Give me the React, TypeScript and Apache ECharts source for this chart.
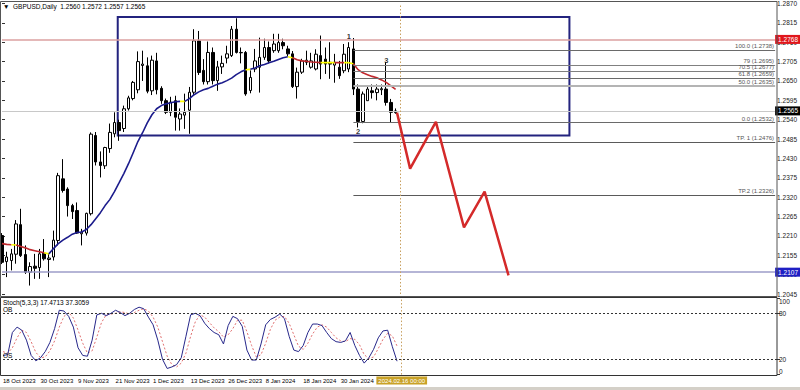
import React, { useEffect, useRef } from 'react';
import * as echarts from 'echarts';

const FONT = '"Liberation Sans", Arial, sans-serif';

// ---- time axis ----
const TICK_LABELS = ['18 Oct 2023', '30 Oct 2023', '9 Nov 2023', '21 Nov 2023', '1 Dec 2023', '13 Dec 2023', '26 Dec 2023', '8 Jan 2024', '18 Jan 2024', '30 Jan 2024'];
const LABEL_STEP = 8;
const N_SLOTS = 166; // bars + empty future space to the right edge
const MARKER_INDEX = 85;
const MARKER_LABEL = '2024.02.16 00:00';

// ---- daily candles, 18 Oct 2023 .. 15 Feb 2024 ----
const OPEN = [1.2211,1.2137,1.2140,1.2158,1.2242,1.2157,1.2107,1.2124,1.2120,1.2161,1.2143,1.2150,1.2197,1.2372,1.2343,1.2296,1.2282,1.2216,1.2218,1.2273,1.2495,1.2420,1.2409,1.2458,1.2500,1.2532,1.2515,1.2571,1.2600,1.2625,1.2694,1.2693,1.2622,1.2707,1.2629,1.2594,1.2561,1.2594,1.2542,1.2553,1.2567,1.2618,1.2764,1.2680,1.2648,1.2731,1.2651,1.2690,1.2715,1.2722,1.2797,1.2731,1.2731,1.2623,1.2684,1.2689,1.2717,1.2745,1.2736,1.2736,1.2759,1.2741,1.2727,1.2634,1.2675,1.2703,1.2689,1.2684,1.2722,1.2712,1.2703,1.2695,1.2689,1.2679,1.2684,1.2741,1.2627,1.2535,1.2594,1.2622,1.2617,1.2625,1.2627,1.2589,1.2560];
const HIGH = [1.2218,1.2165,1.2173,1.2255,1.2287,1.2183,1.2135,1.2159,1.2173,1.2201,1.2161,1.2225,1.2389,1.2428,1.2348,1.2301,1.2305,1.2230,1.2276,1.2504,1.2505,1.2450,1.2463,1.2529,1.2561,1.2540,1.2580,1.2608,1.2650,1.2734,1.2736,1.2717,1.2722,1.2730,1.2635,1.2600,1.2605,1.2608,1.2572,1.2614,1.2633,1.2797,1.2792,1.2712,1.2762,1.2745,1.2707,1.2722,1.2750,1.2806,1.2828,1.2745,1.2735,1.2680,1.2741,1.2773,1.2770,1.2762,1.2784,1.2784,1.2770,1.2750,1.2735,1.2688,1.2713,1.2736,1.2730,1.2740,1.2779,1.2745,1.2760,1.2727,1.2707,1.2755,1.2760,1.2772,1.2640,1.2620,1.2635,1.2640,1.2640,1.2640,1.2703,1.2599,1.2572];
const LOW = [1.2130,1.2093,1.2112,1.2131,1.2150,1.2102,1.2069,1.2088,1.2088,1.2140,1.2093,1.2140,1.2183,1.2333,1.2265,1.2258,1.2216,1.2183,1.2211,1.2268,1.2410,1.2376,1.2400,1.2446,1.2490,1.2480,1.2505,1.2566,1.2595,1.2615,1.2650,1.2615,1.2610,1.2612,1.2585,1.2556,1.2550,1.2509,1.2509,1.2514,1.2500,1.2610,1.2667,1.2640,1.2640,1.2640,1.2622,1.2670,1.2700,1.2718,1.2728,1.2700,1.2608,1.2615,1.2675,1.2617,1.2710,1.2700,1.2730,1.2730,1.2740,1.2720,1.2630,1.2600,1.2670,1.2695,1.2685,1.2680,1.2655,1.2670,1.2656,1.2645,1.2656,1.2672,1.2675,1.2610,1.2518,1.2530,1.2594,1.2600,1.2595,1.2610,1.2580,1.2532,1.2557];
const CLOSE = [1.2135,1.2150,1.2159,1.2244,1.2154,1.2107,1.2123,1.2118,1.2159,1.2145,1.2147,1.2198,1.2381,1.2339,1.2296,1.2279,1.2218,1.2221,1.2274,1.2499,1.2420,1.2410,1.2461,1.2504,1.2532,1.2509,1.2571,1.2602,1.2646,1.2705,1.2698,1.2621,1.2709,1.2625,1.2594,1.2561,1.2590,1.2547,1.2556,1.2561,1.2618,1.2764,1.2674,1.2648,1.2731,1.2651,1.2690,1.2700,1.2727,1.2797,1.2731,1.2730,1.2613,1.2660,1.2707,1.2717,1.2745,1.2707,1.2755,1.2759,1.2750,1.2727,1.2634,1.2675,1.2707,1.2709,1.2707,1.2726,1.2698,1.2698,1.2698,1.2703,1.2665,1.2726,1.2745,1.2627,1.2535,1.2613,1.2627,1.2617,1.2627,1.2628,1.2589,1.2561,1.2565];

// ---- moving average (colour per segment: r falling, y flat, b rising) ----
const MA = [1.2188,1.2186,1.2185,1.2184,1.2180,1.2176,1.2171,1.2168,1.2165,1.2162,1.2159,1.2174,1.2188,1.2198,1.2206,1.2215,1.2220,1.2221,1.2228,1.2242,1.2259,1.2276,1.2296,1.2313,1.2336,1.2361,1.2387,1.2415,1.2446,1.2478,1.2503,1.2531,1.2554,1.2571,1.2580,1.2585,1.2588,1.2591,1.2592,1.2592,1.2600,1.2611,1.2619,1.2625,1.2629,1.2635,1.2641,1.2645,1.2651,1.2658,1.2668,1.2676,1.2682,1.2683,1.2687,1.2693,1.2697,1.2702,1.2706,1.2711,1.2716,1.2719,1.2716,1.2710,1.2707,1.2706,1.2704,1.2703,1.2702,1.2702,1.2702,1.2702,1.2702,1.2702,1.2702,1.2699,1.2682,1.2673,1.2668,1.2663,1.2659,1.2653,1.2646,1.2636,1.2626];
const MA_SEG = 'rryrrrrrrybbbbbbbbbbbbbbbbbbbbbbbbbbbbybbbbbbbbbbbbbybbbbbbbbyrrrrrryyyrryyrrrrrrrrr';

// ---- stochastic (5,3,3) ----
const STOCH_MAIN = [25,26,55,62,58,45,25,18,22,30,42,60,84,83,76,62,35,25,24,45,78,80,77,80,84,81,77,80,85,88,86,75,65,45,20,8,10,13,22,50,78,80,77,67,60,55,52,40,64,76,73,63,32,19,19,40,65,72,75,79,73,50,32,30,38,55,66,66,64,55,47,43,42,44,55,38,25,15,22,33,48,57,58,36.4,17.47];
const STOCH_SIGNAL = [30,28,35,48,58,55,43,29,22,23,31,44,62,76,81,74,58,41,28,31,49,68,78,79,80,82,81,79,81,84,86,83,75,62,43,24,13,10,15,28,50,69,78,75,68,61,56,49,52,60,71,71,56,38,23,26,41,59,71,75,76,67,52,37,33,41,53,62,65,62,55,48,44,43,47,46,39,26,21,23,34,46,54,50.5,37.31];
const STOCH_LEVELS = [{ value: 80, name: 'OB' }, { value: 20, name: 'OS' }];
const STOCH_TICKS = [0, 20, 80, 100];

// ---- drawn objects ----
const H_LINES = [
  { price: 1.2768, color: '#dba0a0', box: '#e0161c', width: 1.5 },
  { price: 1.2565, color: '#c8c8c8', box: '#000000', width: 1 },
  { price: 1.2107, color: '#9c9cc8', box: '#1f1fc4', width: 1.5 },
];
const FIB_START = 75;
const FIB = [
  { text: '100.0 (1.2738)', price: 1.2738 },
  { text: '79 (1.2695)', price: 1.2695 },
  { text: '70.5 (1.2677)', price: 1.2677 },
  { text: '61.8 (1.2659)', price: 1.2659 },
  { text: '50.0 (1.2635)', price: 1.2635 },
  { text: '0.0 (1.2532)', price: 1.2532 },
  { text: 'TP. 1 (1.2476)', price: 1.2476 },
  { text: 'TP.2 (1.2326)', price: 1.2326 },
];
const FIB_STYLE = [
  { color: '#6a6a6a', width: 1 }, { color: '#808080', width: 1 }, { color: '#808080', width: 1 }, { color: '#6a6a6a', width: 1 },
  { color: '#b4b4b4', width: 2 }, { color: '#6a6a6a', width: 1 }, { color: '#5a5a5a', width: 1 }, { color: '#5a5a5a', width: 1 },
];
const BOX = { from: 24.7, to: 121.1, top: 1.2832, bottom: 1.2495 };
const PROJECTION = [[84.3, 1.2560], [87.1, 1.2401], [92.6, 1.2534], [98.6, 1.2234], [103.0, 1.2336], [108.1, 1.2098]];
const WAVE_LABELS = [
  { name: '1', i: 74, price: 1.2777 },
  { name: '2', i: 76, price: 1.2507 },
  { name: '3', i: 82, price: 1.2708 },
];

const MA_COLORS: Record<string, string> = { r: '#c0282d', y: '#ffff00', b: '#1c1c8c' };

function buildOption(): any {
  const cats = Array.from({ length: N_SLOTS }, (_, i) =>
    i % LABEL_STEP === 0 && i / LABEL_STEP < TICK_LABELS.length ? TICK_LABELS[i / LABEL_STEP] : `#${i}`);

  const candles = OPEN.map((o, i) => [o, CLOSE[i], LOW[i], HIGH[i]]);

  const runs: { c: string; from: number; to: number }[] = [];
  for (let s = 0; s < MA_SEG.length; s++) {
    const c = MA_SEG[s];
    const last = runs[runs.length - 1];
    if (last && last.c === c && last.to === s) last.to = s + 1;
    else runs.push({ c, from: s, to: s + 1 });
  }
  const maSeries = runs.map((r) => ({
    type: 'line', xAxisIndex: 2, yAxisIndex: 0, symbol: 'none', silent: true, z: 4,
    data: MA.slice(r.from, r.to + 1).map((v, k) => [r.from + k, v]),
    lineStyle: { color: MA_COLORS[r.c], width: 1.6 },
  }));

  const small = { fontFamily: FONT, fontSize: 6.5 };
  const lastSlot = N_SLOTS - 1;

  const markLines: any[] = [
    ...H_LINES.map((h) => [
      {
        coord: [0, h.price],
        lineStyle: { color: h.color, width: h.width, type: 'solid' },
        label: { show: true, position: 'end', distance: 0, formatter: h.price.toFixed(4), backgroundColor: h.box, color: '#fff', padding: [1, 2, 1, 3], ...small },
      },
      { coord: [lastSlot, h.price] },
    ]),
    ...FIB.map((f, k) => [
      {
        coord: [FIB_START, f.price],
        lineStyle: { color: FIB_STYLE[k].color, width: FIB_STYLE[k].width, type: 'solid' },
        label: { show: true, position: 'insideEndTop', distance: 1, formatter: f.text, color: '#555', ...small, fontSize: 6 },
      },
      { coord: [lastSlot, f.price] },
    ]),
    { xAxis: MARKER_INDEX, lineStyle: { color: '#c8a060', width: 1, type: [1.5, 2] }, label: { show: false } },
  ];

  const stochMax = STOCH_TICKS[STOCH_TICKS.length - 1];
  const stochMin = STOCH_TICKS[0];

  return {
    animation: false,
    backgroundColor: '#ffffff',
    textStyle: { fontFamily: FONT },
    title: [
      { text: '▼  GBPUSD,Daily  1.2560 1.2572 1.2557 1.2565', left: 3, top: 3, padding: 0, textStyle: { fontSize: 6.5, fontWeight: 'normal', color: '#000', fontFamily: FONT } },
      { text: 'Stoch(5,3,3) 17.4713 37.3059', left: 3, top: 299, padding: 0, textStyle: { fontSize: 6.5, fontWeight: 'normal', color: '#000', fontFamily: FONT } },
    ],
    grid: [
      { left: 2, width: 775, top: 2.6, height: 291.4 },
      { left: 2, width: 775, top: 298, height: 76.6 },
    ],
    xAxis: [
      { type: 'category', gridIndex: 0, data: cats, boundaryGap: false, axisLine: { show: false }, axisTick: { show: false }, axisLabel: { show: false }, splitLine: { show: false } },
      {
        type: 'category', gridIndex: 1, data: cats, boundaryGap: false, axisLine: { show: false }, axisTick: { show: false }, splitLine: { show: false },
        axisLabel: { show: true, interval: (idx: number) => idx % LABEL_STEP === 0 && idx / LABEL_STEP < TICK_LABELS.length, align: 'left', margin: 3, color: '#000', fontFamily: FONT, fontSize: 6 },
      },
      { type: 'value', gridIndex: 0, min: 0, max: lastSlot, show: false },
    ],
    yAxis: [
      {
        type: 'value', gridIndex: 0, position: 'right', min: 1.2045, max: 1.2870, interval: 0.0055,
        axisLine: { show: false }, splitLine: { show: false },
        axisTick: { show: true, length: 3, lineStyle: { color: '#333' } },
        axisLabel: { margin: 2, color: '#222', ...small, formatter: (v: number) => v.toFixed(4) },
      },
      {
        type: 'value', gridIndex: 1, position: 'right', min: stochMin, max: stochMax,
        axisLine: { show: false }, splitLine: { show: false },
        axisTick: { show: true, length: 3, customValues: STOCH_TICKS, lineStyle: { color: '#333' } },
        axisLabel: {
          margin: 2, color: '#222', ...small, customValues: STOCH_TICKS,
          formatter: (v: number) => (v === stochMax ? `{top|${v}}` : v === stochMin ? `{bot|${v}}` : String(v)),
          rich: {
            top: { padding: [7, 0, 0, 0], color: '#222', ...small },
            bot: { padding: [0, 0, 7, 0], color: '#222', ...small },
          },
        },
      },
    ],
    series: [
      {
        type: 'candlestick', xAxisIndex: 0, yAxisIndex: 0, data: candles, barWidth: 3, clip: false, z: 3,
        itemStyle: { color: '#ffffff', color0: '#000000', borderColor: '#000000', borderColor0: '#000000', borderWidth: 1 },
      },
      ...maSeries,
      {
        type: 'line', xAxisIndex: 2, yAxisIndex: 0, symbol: 'none', data: PROJECTION, z: 5,
        lineStyle: { color: '#d42a2a', width: 2.5 },
        markLine: { symbol: ['none', 'none'], silent: true, animation: false, label: { show: false }, data: markLines },
        markArea: {
          silent: true,
          itemStyle: { color: 'rgba(0,0,0,0)', borderColor: '#23237e', borderWidth: 2 },
          data: [[{ coord: [BOX.from, BOX.top] }, { coord: [BOX.to, BOX.bottom] }]],
        },
      },
      {
        type: 'scatter', xAxisIndex: 2, yAxisIndex: 0, symbolSize: 1, itemStyle: { color: 'rgba(0,0,0,0)' }, z: 6,
        data: WAVE_LABELS.map((w) => ({ name: w.name, value: [w.i, w.price] })),
        label: { show: true, position: 'inside', formatter: (p: any) => p.name, color: '#000', fontWeight: 'bold', fontFamily: FONT, fontSize: 7.5 },
      },
      {
        type: 'line', xAxisIndex: 1, yAxisIndex: 1, symbol: 'none', data: STOCH_MAIN, z: 4,
        lineStyle: { color: '#27278a', width: 1 },
        markLine: {
          symbol: ['none', 'none'], silent: true, animation: false,
          data: [
            ...STOCH_LEVELS.map((l) => ({
              yAxis: l.value, lineStyle: { color: '#333', width: 1, type: [2, 2] },
              label: { show: true, position: 'insideStartTop', distance: 0, formatter: l.name, color: '#000', ...small },
            })),
            {
              xAxis: MARKER_INDEX, lineStyle: { color: '#c8a060', width: 1, type: [1.5, 2] },
              label: { show: true, position: 'start', distance: 2, formatter: MARKER_LABEL, backgroundColor: '#c9a227', color: '#fff', padding: [1, 2], fontFamily: FONT, fontSize: 6 },
            },
          ],
        },
      },
      {
        type: 'line', xAxisIndex: 1, yAxisIndex: 1, symbol: 'none', data: STOCH_SIGNAL, z: 3,
        lineStyle: { color: '#e07070', width: 1, type: [2, 2] },
      },
    ],
    graphic: [
      { type: 'rect', silent: true, z: 100, shape: { x: 0.5, y: 1.5, width: 776.5, height: 295 }, style: { fill: 'none', stroke: '#555', lineWidth: 1 } },
      { type: 'rect', silent: true, z: 100, shape: { x: 0.5, y: 297.5, width: 776.5, height: 78 }, style: { fill: 'none', stroke: '#333', lineWidth: 1 } },
      { type: 'rect', silent: true, z: 100, shape: { x: 0, y: 387, width: 800, height: 3 }, style: { fill: '#d4d0c8' } },
    ],
  };
}

export default function App() {
  const ref = useRef<HTMLDivElement>(null);
  useEffect(() => {
    const chart = echarts.init(ref.current!, null, { renderer: 'svg' });
    chart.setOption(buildOption());
    return () => chart.dispose();
  }, []);
  return <div ref={ref} style={{ position: 'fixed', left: 0, top: 0, width: 800, height: 390, background: '#fff' }} />;
}
